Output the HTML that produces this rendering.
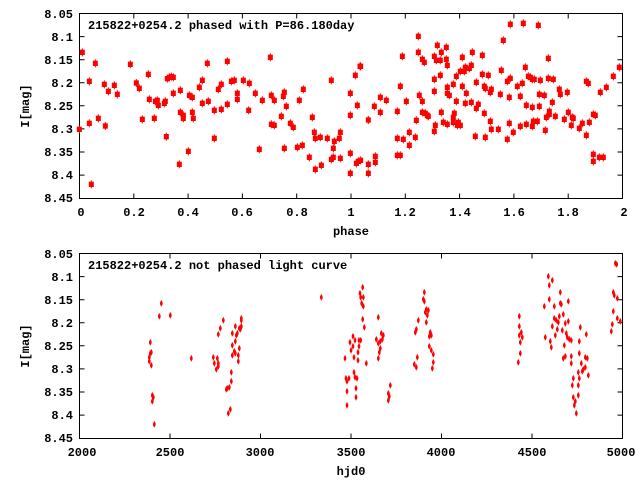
<!DOCTYPE html>
<html><head><style>
body{margin:0;background:#fff}
svg{display:block}
text{font-family:"Liberation Mono",monospace;font-weight:bold;font-size:12px;fill:#000}
</style></head><body>
<svg width="640" height="480" viewBox="0 0 640 480" xmlns="http://www.w3.org/2000/svg">
<defs>
<g id="m1"><rect x="-7.5" y="-8" width="15" height="16" fill="#f00"/><rect x="-1.5" y="-12" width="3" height="24" fill="#f00"/></g>
<g id="m2"><ellipse cx="0" cy="0" rx="4" ry="6.5" fill="#f00"/><rect x="-1.5" y="-9" width="3" height="18" fill="#f00"/></g>
</defs>
<g stroke="#000" stroke-width="1" fill="none">
<rect x="79.5" y="13.5" width="543" height="185"/>
<rect x="79.5" y="253.5" width="543" height="185"/>
<path id="tk" d="
M79.5 36.6h5M79.5 59.7h5M79.5 82.8h5M79.5 105.8h5M79.5 128.9h5M79.5 152h5M79.5 175.1h5
M622.5 36.6h-5M622.5 59.7h-5M622.5 82.8h-5M622.5 105.8h-5M622.5 128.9h-5M622.5 152h-5M622.5 175.1h-5
M133.8 198.5v-5M188.1 198.5v-5M242.4 198.5v-5M296.7 198.5v-5M351 198.5v-5M405.3 198.5v-5M459.6 198.5v-5M513.9 198.5v-5M568.2 198.5v-5
M133.8 13.5v5M188.1 13.5v5M242.4 13.5v5M296.7 13.5v5M351 13.5v5M405.3 13.5v5M459.6 13.5v5M513.9 13.5v5M568.2 13.5v5
M79.5 276.6h5M79.5 299.7h5M79.5 322.8h5M79.5 345.8h5M79.5 368.9h5M79.5 392h5M79.5 415.1h5
M622.5 276.6h-5M622.5 299.7h-5M622.5 322.8h-5M622.5 345.8h-5M622.5 368.9h-5M622.5 392h-5M622.5 415.1h-5
M170 438.5v-5M260.5 438.5v-5M351 438.5v-5M441.5 438.5v-5M532 438.5v-5
M170 253.5v5M260.5 253.5v5M351 253.5v5M441.5 253.5v5M532 253.5v5"/>
</g>
<g text-anchor="end">
<text x="73" y="18">8.05</text><text x="73" y="41">8.1</text><text x="73" y="64">8.15</text><text x="73" y="87">8.2</text><text x="73" y="110">8.25</text><text x="73" y="133">8.3</text><text x="73" y="156">8.35</text><text x="73" y="179">8.4</text><text x="73" y="202">8.45</text>
<text x="73" y="258">8.05</text><text x="73" y="281">8.1</text><text x="73" y="304">8.15</text><text x="73" y="327">8.2</text><text x="73" y="350">8.25</text><text x="73" y="373">8.3</text><text x="73" y="396">8.35</text><text x="73" y="419">8.4</text><text x="73" y="442">8.45</text>
</g>
<g text-anchor="middle">
<text x="81" y="216">0</text><text x="134" y="216">0.2</text><text x="188" y="216">0.4</text><text x="242" y="216">0.6</text><text x="297" y="216">0.8</text><text x="351" y="216">1</text><text x="405" y="216">1.2</text><text x="460" y="216">1.4</text><text x="514" y="216">1.6</text><text x="568" y="216">1.8</text><text x="624" y="216">2</text>
<text x="351" y="235">phase</text>
<text x="82" y="456">2000</text><text x="170" y="456">2500</text><text x="260" y="456">3000</text><text x="351" y="456">3500</text><text x="441" y="456">4000</text><text x="532" y="456">4500</text><text x="621" y="456">5000</text>
<text x="351" y="475">hjd0</text>
<text transform="translate(29,106) rotate(-90)">I[mag]</text>
<text transform="translate(29,346) rotate(-90)">I[mag]</text>
</g>
<text x="88" y="29">215822+0254.2 phased with P=86.180day</text>
<text x="88" y="269">215822+0254.2 not phased light curve</text>
<g id="top" transform="scale(0.33333)"></g>
<g id="bot" transform="scale(0.33333)"></g>
</svg>
<script>
var t1="238,388;247,157;268,244;268,370;274,553;286,190;295,355;313,253;316,378;325,274;343,256;352,283;391,193;409,249;418,265;427,358;445,223;448,298;463,355;466,304;472,301;475,316;493,310;496,304;499,410;502,236;508,232;514,230;520,232;520,280;538,493;541,337;541,271;550,346;550,355;565,454;568,286;577,292;577,337;580,355;598,262;607,310;607,241;622,190;625,304;643,331;643,415;655,268;664,328;664,253;682,313;682,184;694,244;703,241;712,280;712,298;730,241;748,250;746,331;766,280;778,448;787,301;811,172;814,286;814,373;823,376;823,301;844,349;850,289;853,445;853,277;859,319;871,370;880,382;892,442;898,301;907,436;910,268;928,472;937,352;943,397;946,508;946,415;961,412;964,496;982,415;994,241;994,478;1000,472;1000,445;1003,424;1018,415;1021,397;1021,475;1051,280;1051,346;1051,460;1051,520;1066,226;1069,490;1072,316;1075,484;1080,199";
var t2="2,199;2,481;25,360;25,493;25,520;43,319;46,469;46,487;61,292;61,337;79,301;112,334;112,415;112,466;121,259;121,466;127,169;130,418;139,304;148,397;148,436;166,412;169,361;175,109;175,157;178,286;187,178;187,304;187,337;193,187;196,340;202,346;205,349;223,169;223,238;223,274;223,394;226,376;229,181;232,136;241,181;241,226;244,157;244,337;250,367;259,142;259,178;262,196;262,262;262,280;262,373;268,286;280,253;280,352;280,367;283,340;289,229;289,304;292,376;295,367;301,376;301,214;307,172;307,259;313,214;316,202;316,310;319,280;328,205;334,196;334,307;337,157;346,409;349,247;349,325;355,313;367,166;367,223;373,259;373,340;376,265;376,412;385,226;391,277;391,364;394,268;394,388;415,388;421,283;424,211;430,121;442,418;442,244;448,292;448,370;451,235;451,73;460,397;472,259;481,289;481,379;487,250;490,70;496,202;499,316;499,373;505,229;511,232;517,238;517,322;517,379;520,364;523,238;532,364;535,76;538,283;538,319;541,241;553,286;556,391;559,352;565,175;565,235;568,334;568,343;580,238;577,307;586,349;598,268;601,283;613,358;622,277;625,337;634,376;637,352;640,355;658,385;667,370;679,406;679,244;688,367;685,250;700,463;700,484;700,343;706,346;718,472;721,277;730,472;739,262;760,229;778,202";
var b1="448,352;448,364;451,307;454,337;454,376;451,340;457,484;457,466;460,472;463,553;478,229;484,190;511,226;574,355;640,352;643,370;649,388;652,355;655,379;655,370;655,283;661,265;670,241;679,448;682,445;688,442;685,520;691,508;694,397;694,424;697,280;697,316;697,346;703,334;706,259;706,304;706,340;709,286;712,280;715,346;715,364;718,325;718,265;721,268;724,259;724,235;724,241;964,172;1035,355;1038,415;1041,424;1041,454;1041,496;1047,415;1050,307;1053,331;1059,289;1059,319;1062,352;1062,397;1065,301;1065,412;1068,445;1068,472;1071,415;1074,361;1074,337;1077,319;1077,301;1080,160";
var b2="2,172;2,301;8,142;5,190;8,238;10,199;10,172;13,262;19,370;49,298;55,232;55,355;55,310;58,337;61,304;61,325;64,280;67,298;70,286;85,460;88,469;85,481;91,436;163,373;166,277;169,382;169,268;172,352;175,241;190,178;193,157;193,184;196,217;199,247;199,208;202,226;205,211;208,289;208,319;211,277;214,286;214,331;217,385;220,367;220,343;475,367;478,229;478,259;478,286;481,307;481,340;484,277;487,292;553,199;556,292;565,109;568,136;568,178;571,304;574,322;577,121;577,259;583,199;583,235;586,286;589,241;592,268;595,247;598,229;601,157;601,190;604,193;607,271;610,223;613,316;610,355;616,349;616,250;619,280;622,292;625,184;625,244;628,298;634,301;634,349;634,370;637,436;640,415;640,472;643,496;646,484;649,520;655,466;655,436;655,397;658,340;658,415;661,262;658,304;664,370;667,394;670,388;676,352;676,382;679,283;682,355;685,406;754,274;757,253;760,214;760,157;763,166;772,175;772,235;781,244;766,70;770,73";
function add(id,s,dx,dy,m){var g=document.getElementById(id),h="";s.split(";").forEach(function(p){var a=p.split(",");h+='<use href="#'+m+'" x="'+(+a[0]+dx)+'" y="'+(+a[1]+dy)+'"/>';});g.innerHTML+=h;}
add("top",t1,0,0,"m1");add("top",t2,1080,0,"m1");
add("bot",b1,0,720,"m2");add("bot",b2,1080,720,"m2");
</script>
</body></html>
